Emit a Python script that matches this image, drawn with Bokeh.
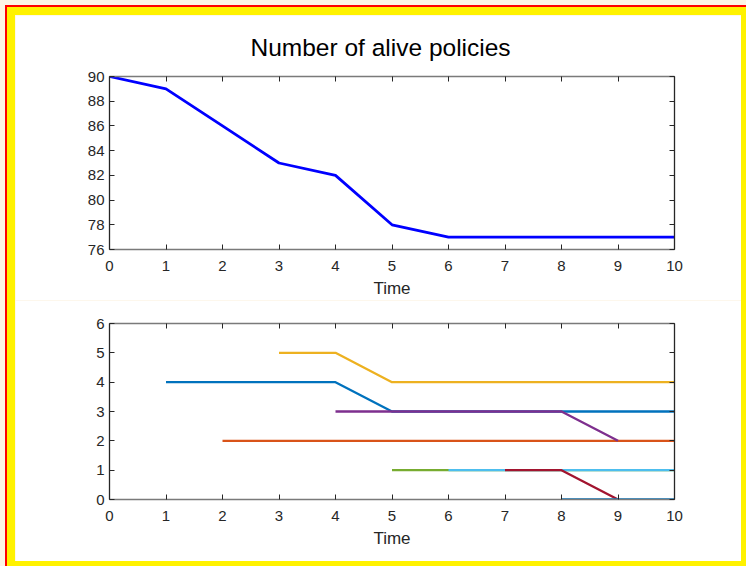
from bokeh.plotting import figure
from bokeh.layouts import column, row
from bokeh.models import LinearAxis, FixedTicker, Title, GlobalInlineStyleSheet, Range1d, Spacer
from bokeh.embed import file_html
from bokeh.resources import INLINE

# ---- data ----
time_top = [0, 1, 2, 3, 4, 5, 6, 7, 8, 9, 10]
alive = [90, 89, 86, 83, 82, 78, 77, 77, 77, 77, 77]

pol1_t = [1, 2, 3, 4, 5, 6, 7, 8, 9, 10]
pol1_v = [4, 4, 4, 4, 3, 3, 3, 3, 3, 3]
pol2_t = [2, 3, 4, 5, 6, 7, 8, 9, 10]
pol2_v = [2, 2, 2, 2, 2, 2, 2, 2, 2]
pol3_t = [3, 4, 5, 6, 7, 8, 9, 10]
pol3_v = [5, 5, 4, 4, 4, 4, 4, 4]
pol4_t = [4, 5, 6, 7, 8, 9]
pol4_v = [3, 3, 3, 3, 3, 2]
pol5_t = [5, 6, 7, 8, 9, 10]
pol5_v = [1, 1, 1, 1, 1, 1]
pol6_t = [6, 7, 8, 9, 10]
pol6_v = [1, 1, 1, 1, 1]
pol7_t = [7, 8, 9]
pol7_v = [1, 1, 0]
pol8_t = [8, 9, 10]
pol8_v = [0, 0, 0]

x_ticks = [0, 1, 2, 3, 4, 5, 6, 7, 8, 9, 10]
y_ticks_top = [76, 78, 80, 82, 84, 86, 88, 90]
y_ticks_bottom = [0, 1, 2, 3, 4, 5, 6]

colors = ["#0072BD", "#D95319", "#EDB120", "#7E2F8E", "#77AC30", "#4DBEEE", "#A2142F", "#0072BD"]

FONT = "Liberation Sans"
DARK = "#262626"
GREY = "#7a7a7a"


def add_axes(p, yticks):
    bottom = LinearAxis(ticker=FixedTicker(ticks=x_ticks))
    left = LinearAxis(ticker=FixedTicker(ticks=yticks))
    top = LinearAxis(ticker=FixedTicker(ticks=x_ticks),
                     major_label_overrides={t: "" for t in x_ticks})
    right = LinearAxis(ticker=FixedTicker(ticks=yticks),
                       major_label_overrides={t: "" for t in yticks})
    p.add_layout(bottom, "below")
    p.add_layout(left, "left")
    p.add_layout(top, "above")
    p.add_layout(right, "right")
    for ax in [bottom, top]:
        ax.axis_line_color = GREY
        ax.major_tick_line_color = DARK
    for ax in [left, right]:
        ax.axis_line_color = DARK
        ax.major_tick_line_color = DARK
    for ax in [bottom, left, top, right]:
        ax.major_tick_in = 5
        ax.major_tick_out = 0
        ax.minor_tick_line_color = None
        ax.axis_line_width = 1.3
        ax.major_label_text_font = FONT
        ax.major_label_text_color = DARK
        ax.major_label_text_font_size = "15px"
        ax.axis_label_text_font = FONT
        ax.axis_label_text_font_style = "normal"
        ax.axis_label_text_color = DARK
    bottom.major_label_standoff = 11
    left.major_label_standoff = 5
    bottom.axis_label = "Time"
    bottom.axis_label_text_font_size = "17px"
    bottom.axis_label_standoff = 5
    top.major_label_standoff = 0
    right.major_label_standoff = 0
    p.outline_line_color = None


p1 = figure(width=726, height=285, output_backend="svg", toolbar_location=None,
            x_axis_type=None, y_axis_type=None,
            x_range=Range1d(0, 10), y_range=Range1d(76, 90),
            min_border_left=94, min_border_right=67, min_border_top=58, min_border_bottom=50,
            background_fill_color="white", border_fill_color="white")
p1.grid.visible = False
p1.line(time_top, alive, line_color="#0000FF", line_width=2.8)
add_axes(p1, y_ticks_top)
p1.add_layout(Title(text="Number of alive policies", align="left", offset=141,
                    text_font=FONT, text_font_size="24.5px", text_font_style="normal",
                    text_color="#000000", standoff=32), "above")

p2 = figure(width=726, height=261, output_backend="svg", toolbar_location=None,
            x_axis_type=None, y_axis_type=None,
            x_range=Range1d(0, 10), y_range=Range1d(0, 6),
            min_border_left=94, min_border_right=67, min_border_top=23, min_border_bottom=62,
            background_fill_color="white", border_fill_color="white")
p2.grid.visible = False
series = [(pol1_t, pol1_v), (pol2_t, pol2_v), (pol3_t, pol3_v), (pol4_t, pol4_v),
          (pol5_t, pol5_v), (pol6_t, pol6_v), (pol7_t, pol7_v), (pol8_t, pol8_v)]
for (t, v), c in zip(series, colors):
    p2.line(t, v, line_color=c, line_width=2.3)
add_axes(p2, y_ticks_bottom)

inner = column(p1, p2, spacing=0,
               styles={"box-shadow": "0 0 0 8px #FFF200, 0 0 0 10px #FF0000"})
layout = column(Spacer(height=15, width=10),
                row(Spacer(width=15, height=10), inner, spacing=0),
                spacing=0,
                stylesheets=[GlobalInlineStyleSheet(css="body { background-color: #FDF5E6; }")])

open("out.html", "w").write(file_html(layout, INLINE))
